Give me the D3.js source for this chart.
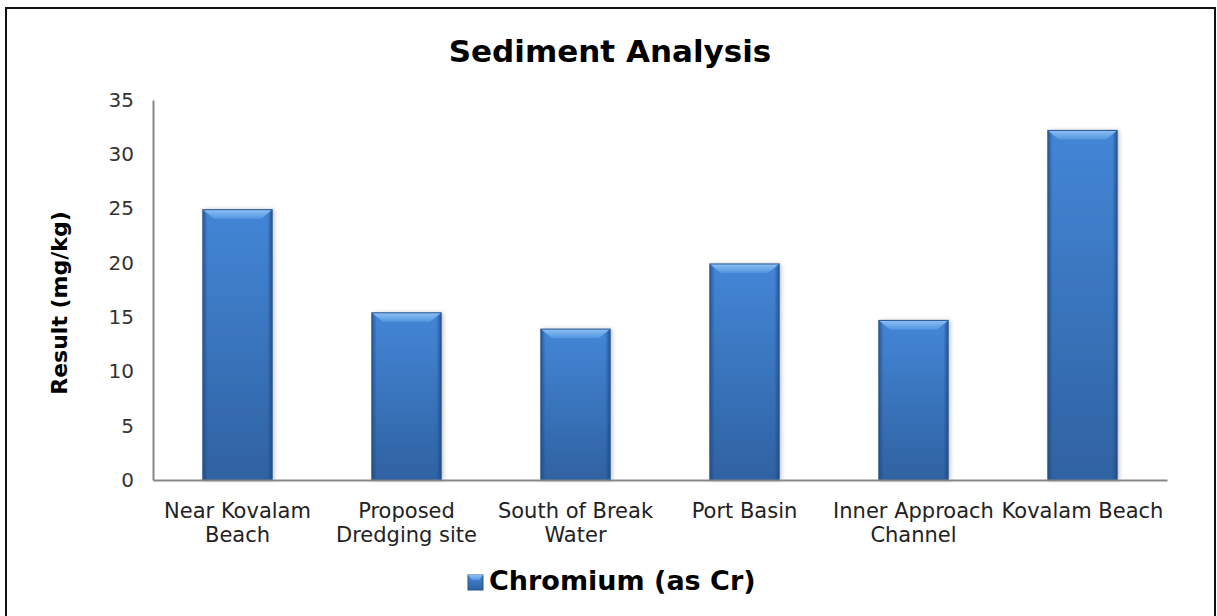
<!DOCTYPE html>
<html>
<head>
<meta charset="utf-8">
<script src="https://cdn.jsdelivr.net/npm/d3@7"></script>
<style>
  html, body { margin: 0; padding: 0; background: #fff; }
  svg { display: block; font-family: Verdana, "DejaVu Sans", sans-serif; }
</style>
</head>
<body>
<div id="wrapper"></div>
<script>
const width = 1217,
    height = 616;

const sites = [
    ["Near Kovalam", "Beach"],
    ["Proposed", "Dredging site"],
    ["South of Break", "Water"],
    ["Port Basin"],
    ["Inner Approach", "Channel"],
    ["Kovalam Beach"]
];
const chromium = [24.9, 15.4, 13.9, 19.9, 14.7, 32.2];
const yTicks = [0, 5, 10, 15, 20, 25, 30, 35];
const seriesName = "Chromium (as Cr)";

const plot = { left: 153, right: 1167, top: 100, bottom: 480 };

const x = d3.scaleBand()
    .domain(d3.range(sites.length))
    .range([plot.left, plot.right])
    .paddingInner(0.59)
    .paddingOuter(0.295);

const y = d3.scaleLinear()
    .domain([0, 35])
    .range([plot.bottom, plot.top]);

const svg = d3.select("#wrapper")
    .append("svg")
    .attr("width", width)
    .attr("height", height);

// gradients for the bevelled bars
const defs = svg.append("defs");
const body = defs.append("linearGradient").attr("id", "barBody")
    .attr("x1", 0).attr("y1", 0).attr("x2", 0).attr("y2", 1);
body.append("stop").attr("offset", "0%").attr("stop-color", "#4386d6");
body.append("stop").attr("offset", "100%").attr("stop-color", "#2f62a2");

const sides = defs.append("linearGradient").attr("id", "barSides")
    .attr("x1", 0).attr("y1", 0).attr("x2", 1).attr("y2", 0);
sides.append("stop").attr("offset", "0%").attr("stop-color", "#1d4680").attr("stop-opacity", 0.7);
sides.append("stop").attr("offset", "7%").attr("stop-color", "#1d4680").attr("stop-opacity", 0);
sides.append("stop").attr("offset", "93%").attr("stop-color", "#1d4680").attr("stop-opacity", 0);
sides.append("stop").attr("offset", "100%").attr("stop-color", "#1d4680").attr("stop-opacity", 0.75);

const bevel = defs.append("linearGradient").attr("id", "barBevel")
    .attr("x1", 0).attr("y1", 0).attr("x2", 0).attr("y2", 1);
bevel.append("stop").attr("offset", "0%").attr("stop-color", "#8cc0f5");
bevel.append("stop").attr("offset", "100%").attr("stop-color", "#5596e0");

const shadow = defs.append("filter").attr("id", "shadow")
    .attr("x", "-20%").attr("y", "-5%").attr("width", "140%").attr("height", "110%");
shadow.append("feDropShadow").attr("dx", 2).attr("dy", 0).attr("stdDeviation", 2)
    .attr("flood-color", "#000").attr("flood-opacity", 0.25);

// chart border
svg.append("rect")
    .attr("x", 6).attr("y", 8)
    .attr("width", 1209).attr("height", 620)
    .attr("fill", "none")
    .attr("stroke", "#111")
    .attr("stroke-width", 2);

// title
svg.append("text")
    .attr("x", 610).attr("y", 62)
    .attr("text-anchor", "middle")
    .attr("font-size", 31)
    .attr("font-weight", "bold")
    .attr("fill", "#000")
    .text("Sediment Analysis");

// y axis
const yAxis = svg.append("g")
    .attr("transform", `translate(${plot.left},0)`)
    .call(d3.axisLeft(y).tickValues(yTicks).tickSize(0).tickPadding(19));
yAxis.select(".domain").attr("stroke", "#878787").attr("stroke-width", 2);
yAxis.selectAll("text")
    .attr("font-size", 20)
    .attr("font-family", "Verdana, 'DejaVu Sans', sans-serif")
    .attr("fill", "#333");

svg.append("text")
    .attr("transform", `translate(67,${(plot.top + plot.bottom) / 2 + 13}) rotate(-90)`)
    .attr("text-anchor", "middle")
    .attr("font-size", 22)
    .attr("font-weight", "bold")
    .attr("fill", "#000")
    .text("Result (mg/kg)");

// bars
const bars = svg.append("g").selectAll("g")
    .data(chromium)
    .join("g");

bars.append("rect")
    .attr("x", (d, i) => x(i))
    .attr("y", d => y(d))
    .attr("width", x.bandwidth())
    .attr("height", d => y(0) - y(d))
    .attr("fill", "url(#barBody)")
    .attr("filter", "url(#shadow)");

bars.append("rect")
    .attr("x", (d, i) => x(i))
    .attr("y", d => y(d))
    .attr("width", x.bandwidth())
    .attr("height", d => y(0) - y(d))
    .attr("fill", "url(#barSides)");

bars.append("path")
    .attr("d", (d, i) => {
        const x0 = x(i), x1 = x(i) + x.bandwidth(), t = y(d);
        return `M${x0},${t}L${x1},${t}L${x1 - 11},${t + 9}L${x0 + 11},${t + 9}Z`;
    })
    .attr("fill", "url(#barBevel)");

bars.append("rect")
    .attr("x", (d, i) => x(i))
    .attr("y", d => y(d))
    .attr("width", x.bandwidth())
    .attr("height", d => y(0) - y(d))
    .attr("fill", "none")
    .attr("stroke", "#27548f")
    .attr("stroke-width", 1);

// x axis line
const xAxis = svg.append("g")
    .attr("transform", `translate(0,${plot.bottom})`)
    .call(d3.axisBottom(x).tickSize(0).tickFormat(""));
xAxis.select(".domain").attr("stroke", "#878787").attr("stroke-width", 2);

// category labels
const labels = svg.append("g").selectAll("text")
    .data(sites)
    .join("text")
    .attr("x", (d, i) => x(i) + x.bandwidth() / 2)
    .attr("y", 518)
    .attr("text-anchor", "middle")
    .attr("font-size", 21)
    .attr("fill", "#222");

labels.selectAll("tspan")
    .data(d => d)
    .join("tspan")
    .attr("x", function () { return d3.select(this.parentNode).attr("x"); })
    .attr("dy", (d, j) => j === 0 ? 0 : 24)
    .text(d => d);

// legend
const legend = svg.append("g");
legend.append("rect")
    .attr("x", 468).attr("y", 575)
    .attr("width", 15).attr("height", 15)
    .attr("fill", "url(#barBody)")
    .attr("stroke", "#27548f");
legend.append("path")
    .attr("d", "M468,575L483,575L479,580L472,580Z")
    .attr("fill", "url(#barBevel)");
legend.append("text")
    .attr("x", 489).attr("y", 590)
    .attr("font-size", 27)
    .attr("font-weight", "bold")
    .attr("fill", "#000")
    .text(seriesName);
</script>
</body>
</html>
